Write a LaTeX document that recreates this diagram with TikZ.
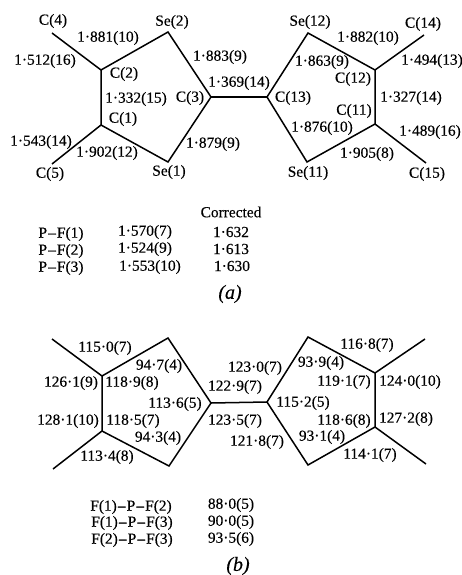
\documentclass[tikz,border=0pt]{standalone}
\usepackage{fontspec}
\setmainfont{Liberation Serif}
\newfontfamily\heavyfam[FakeBold=0.25,ItalicFont={Liberation Serif Italic}]{Liberation Serif}
\newfontfamily\markfam[FakeBold=0.9]{Liberation Serif}
\tikzset{
  lbl/.style={inner sep=0pt,font=\heavyfam\fontsize{15.4}{17}\selectfont,text=black},
  panelcap/.style={inner sep=0pt,font=\heavyfam\fontsize{20}{22}\selectfont\itshape,text=black},
  bond/.style={line width=1.5pt,draw=black,line join=miter}
}
\newcommand{\bF}{{\markfam F}}
\newcommand{\bP}{{\markfam P}}
\newcommand{\dd}{\kern1.1pt–\kern1.1pt}
\begin{document}
\begin{tikzpicture}[x=1pt,y=-1pt]
\useasboundingbox[fill=white] (0,0) rectangle (462,575);
% panel a atoms
\coordinate (aC4) at (52,33);
\coordinate (aC2) at (101,70);
\coordinate (aSe2) at (168,32);
\coordinate (aC3) at (211,97);
\coordinate (aSe1) at (168,162);
\coordinate (aC1) at (101,125);
\coordinate (aC5) at (52,164);
\coordinate (aC13) at (267,97);
\coordinate (aSe12) at (308,33);
\coordinate (aC12) at (375,70);
\coordinate (aC14) at (424,35);
\coordinate (aC11) at (375,124);
\coordinate (aSe11) at (307,162);
\coordinate (aC15) at (426,163);
\draw[bond] (aC2)--(aSe2)--(aC3)--(aSe1)--(aC1)--cycle;
\draw[bond] (aC4)--(aC2);
\draw[bond] (aC5)--(aC1);
\draw[bond] (aC3)--(aC13);
\draw[bond] (aC13)--(aSe12)--(aC12)--(aC11)--(aSe11)--cycle;
\draw[bond] (aC12)--(aC14);
\draw[bond] (aC11)--(aC15);
% panel b atoms
\coordinate (bC4) at (52,339);
\coordinate (bC2) at (102,376);
\coordinate (bSe2) at (168,338);
\coordinate (bC3) at (211,403);
\coordinate (bSe1) at (169,466);
\coordinate (bC1) at (102,431);
\coordinate (bC5) at (53,469);
\coordinate (bC13) at (267,402);
\coordinate (bSe12) at (308,337);
\coordinate (bC12) at (375,373);
\coordinate (bC14) at (425,339);
\coordinate (bC11) at (375,427);
\coordinate (bSe11) at (308,465);
\coordinate (bC15) at (426,464);
\draw[bond] (bC2)--(bSe2)--(bC3)--(bSe1)--(bC1)--cycle;
\draw[bond] (bC4)--(bC2);
\draw[bond] (bC5)--(bC1);
\draw[bond] (bC3)--(bC13);
\draw[bond] (bC13)--(bSe12)--(bC12)--(bC11)--(bSe11)--cycle;
\draw[bond] (bC12)--(bC14);
\draw[bond] (bC11)--(bC15);
% panel a labels
\node[lbl] (l1) at (53,21) {C(4)};
\node[lbl] (l2) at (172,22) {Se(2)};
\node[lbl] (l3) at (108,38) {1·881(10)};
\node[lbl] (l4) at (45,61) {1·512(16)};
\node[lbl] (l5) at (220,57) {1·883(9)};
\node[lbl] (l6) at (124,74) {C(2)};
\node[lbl] (l7) at (239,83) {1·369(14)};
\node[lbl] (l8) at (136,99) {1·332(15)};
\node[lbl] (l9) at (190,98) {C(3)};
\node[lbl] (l10) at (123,119) {C(1)};
\node[lbl] (l11) at (41,142) {1·543(14)};
\node[lbl] (l12) at (107,153) {1·902(12)};
\node[lbl] (l13) at (213,144) {1·879(9)};
\node[lbl] (l14) at (50,174) {C(5)};
\node[lbl] (l15) at (169,172) {Se(1)};
\node[lbl] (l16) at (310,22) {Se(12)};
\node[lbl] (l17) at (368,38) {1·882(10)};
\node[lbl] (l18) at (423,24) {C(14)};
\node[lbl] (l19) at (322,62) {1·863(9)};
\node[lbl] (l20) at (432,61) {1·494(13)};
\node[lbl] (l21) at (353,79) {C(12)};
\node[lbl] (l22) at (293,98) {C(13)};
\node[lbl] (l23) at (411,98) {1·327(14)};
\node[lbl] (l24) at (354,111) {C(11)};
\node[lbl] (l25) at (322,128) {1·876(10)};
\node[lbl] (l26) at (430,132) {1·489(16)};
\node[lbl] (l27) at (367,154) {1·905(8)};
\node[lbl] (l28) at (308,173) {Se(11)};
\node[lbl] (l29) at (427,174) {C(15)};
% table a
\node[lbl] (t1) at (231,212) {Corrected};
\node[lbl] (t2) at (61,234) {\bP\dd\bF(1)};
\node[lbl] (t3) at (145,232) {1·570(7)};
\node[lbl] (t4) at (231,232) {1·632};
\node[lbl] (t5) at (61,251) {\bP\dd\bF(2)};
\node[lbl] (t6) at (145,249) {1·524(9)};
\node[lbl] (t7) at (231,249) {1·613};
\node[lbl] (t8) at (61,268) {\bP\dd\bF(3)};
\node[lbl] (t9) at (150,267) {1·553(10)};
\node[lbl] (t10) at (232,266) {1·630};
\node[panelcap] (capa) at (230,294) {(a)};
% panel b labels
\node[lbl] (m1) at (105,348) {115·0(7)};
\node[lbl] (m2) at (159,366) {94·7(4)};
\node[lbl] (m3) at (71,383) {126·1(9)};
\node[lbl] (m4) at (132,383) {118·9(8)};
\node[lbl] (m5) at (235,387) {122·9(7)};
\node[lbl] (m6) at (175,404) {113·6(5)};
\node[lbl] (m7) at (255,368) {123·0(7)};
\node[lbl] (m8) at (68,421) {128·1(10)};
\node[lbl] (m9) at (133,421) {118·5(7)};
\node[lbl] (m10) at (235,421) {123·5(7)};
\node[lbl] (m11) at (158,438) {94·3(4)};
\node[lbl] (m12) at (257,442) {121·8(7)};
\node[lbl] (m13) at (107,457) {113·4(8)};
\node[lbl] (m14) at (367,345) {116·8(7)};
\node[lbl] (m15) at (321,363) {93·9(4)};
\node[lbl] (m16) at (344,382) {119·1(7)};
\node[lbl] (m17) at (410,382) {124·0(10)};
\node[lbl] (m18) at (303,403) {115·2(5)};
\node[lbl] (m19) at (344,421) {118·6(8)};
\node[lbl] (m20) at (406,419) {127·2(8)};
\node[lbl] (m21) at (322,437) {93·1(4)};
\node[lbl] (m22) at (370,455) {114·1(7)};
% table b
\node[lbl] (u1) at (131,507) {\bF(1)\dd\bP\dd\bF(2)};
\node[lbl] (u2) at (231,505) {88·0(5)};
\node[lbl] (u3) at (132,523) {\bF(1)\dd\bP\dd\bF(3)};
\node[lbl] (u4) at (231,522) {90·0(5)};
\node[lbl] (u5) at (132,540) {\bF(2)\dd\bP\dd\bF(3)};
\node[lbl] (u6) at (231,539) {93·5(6)};
\node[panelcap] (capb) at (238,566) {(b)};
\end{tikzpicture}
\end{document}
